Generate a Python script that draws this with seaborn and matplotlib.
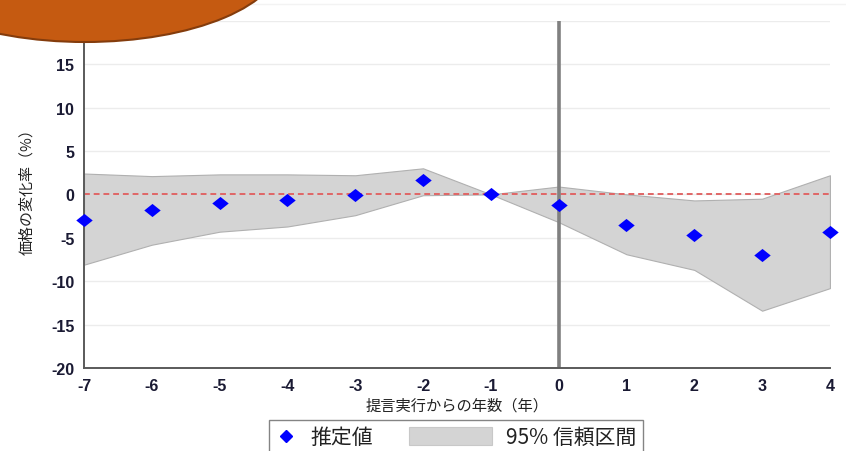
import matplotlib
matplotlib.use("Agg")
import matplotlib.pyplot as plt
from matplotlib.patches import Ellipse, Patch, Rectangle
from matplotlib.lines import Line2D
from matplotlib.legend_handler import HandlerPatch
from matplotlib.path import Path
import seaborn as sns
import pandas as pd

# Event-study estimates: years relative to the recommendation
years = [-7, -6, -5, -4, -3, -2, -1, 0, 1, 2, 3, 4]
estimate = [-2.9, -1.8, -1.0, -0.7, -0.1, 1.6, 0.0, -1.2, -3.5, -4.7, -7.0, -4.3]
ci_upper = [2.4, 2.1, 2.3, 2.3, 2.2, 3.0, 0.0, 0.9, 0.0, -0.7, -0.5, 2.2]
ci_lower = [-8.1, -5.8, -4.3, -3.7, -2.4, -0.1, 0.0, -3.2, -6.9, -8.7, -13.4, -10.8]
y_ticks = [-20, -15, -10, -5, 0, 5, 10, 15, 20]
y_tick_labels = ["-20", "-15", "-10", "-5", "0", "5", "10", "15", ""]

df = pd.DataFrame({"year": years, "estimate": estimate,
                   "lower": ci_lower, "upper": ci_upper})

sns.set_theme(style="white")
plt.rcParams["font.family"] = ["Noto Sans CJK JP", "DejaVu Sans"]
plt.rcParams["axes.unicode_minus"] = False

# Slightly flattened diamond marker
diamond = Path([(-1.0, 0.0), (0.0, 0.8), (1.0, 0.0), (0.0, -0.8), (-1.0, 0.0)],
               [Path.MOVETO, Path.LINETO, Path.LINETO, Path.LINETO, Path.CLOSEPOLY])

fig = plt.figure(figsize=(8.46, 4.52), dpi=100)
ax = fig.add_axes([0.0993, 0.1836, 0.8817, 0.7684])

# Confidence band
ax.fill_between(df["year"], df["lower"], df["upper"], color="#d4d4d4",
                edgecolor="#b0b0b0", linewidth=0.8, zorder=1)

# Reference lines
ax.axhline(0, color="#e06666", linestyle=(0, (3, 2)), linewidth=1.4, zorder=2)
ax.axvline(0, color="#808080", linewidth=2.6, zorder=2)

# Point estimates
sns.scatterplot(data=df, x="year", y="estimate", marker=diamond, s=140,
                color="#0000ff", edgecolor="#0000ff", linewidth=0,
                ax=ax, zorder=4, legend=False, clip_on=False)

ax.set_xlim(-7, 4)
ax.set_ylim(-20, 20)
ax.set_xticks(years)
ax.set_xticklabels([str(y) for y in years])
ax.set_yticks(y_ticks)
ax.set_yticklabels(y_tick_labels)
ax.yaxis.grid(True, color="#ececec", linewidth=1.0)
ax.xaxis.grid(False)
ax.set_axisbelow(True)

for side in ["top", "right"]:
    ax.spines[side].set_visible(False)
for side in ["left", "bottom"]:
    ax.spines[side].set_color("#5a5a5a")
    ax.spines[side].set_linewidth(1.4)

ax.tick_params(axis="both", which="major", direction="out", length=5,
               width=1.2, color="#5a5a5a", pad=2)
for lab in ax.get_xticklabels() + ax.get_yticklabels():
    lab.set_fontfamily(["Liberation Sans", "DejaVu Sans"])
    lab.set_fontweight("bold")
    lab.set_fontsize(11.5)
    lab.set_color("#1a1a33")

ax.set_xlabel("提言実行からの年数（年）", fontsize=11, color="#222222", labelpad=3)
ax.set_ylabel("価格の変化率（%）", fontsize=10.8, color="#222222")
ax.yaxis.set_label_coords(-0.067, 0.52)

# Faint rule along the top edge
fig.add_artist(Line2D([0, 1], [1 - 5 / 452] * 2, transform=fig.transFigure,
                      color="#f3f3f3", linewidth=1.0))


class WideBox(HandlerPatch):
    """Draws the band swatch wider than the legend handle slot."""

    def __init__(self, extra):
        super().__init__()
        self.extra = extra

    def create_artists(self, legend, orig_handle, xdescent, ydescent,
                       width, height, fontsize, trans):
        r = Rectangle((-xdescent - self.extra, -ydescent - 0.1 * height),
                      width + self.extra, 1.2 * height,
                      facecolor=orig_handle.get_facecolor(),
                      edgecolor=orig_handle.get_edgecolor(), linewidth=0.8,
                      transform=trans)
        return [r]


# Legend below the axes
band_handle = Patch(facecolor="#d4d4d4", edgecolor="#c8c8c8", label="95% 信頼区間")
handles = [
    Line2D([], [], marker="D", linestyle="none", color="#0000ff",
           markersize=6, label="推定値"),
    band_handle,
]
leg = fig.legend(handles=handles, loc="upper center", ncol=2,
                 bbox_to_anchor=(0.539, 0.069), frameon=True, fancybox=False,
                 fontsize=15, handlelength=1.0, columnspacing=4.7,
                 handletextpad=0.7, borderpad=0.3, borderaxespad=0,
                 edgecolor="#666666", handler_map={band_handle: WideBox(44.7)})
leg.get_frame().set_linewidth(1.0)
for t in leg.get_texts():
    t.set_color("#222222")

# Decorative orange ellipse in the upper-left corner
fig.add_artist(Ellipse((85 / 846, 1 + 40 / 452), 394 / 846, 166 / 452,
                       transform=fig.transFigure, facecolor="#c55a11",
                       edgecolor="#843c0c", linewidth=1.5, zorder=10))

fig.savefig("out.png", dpi=100)
